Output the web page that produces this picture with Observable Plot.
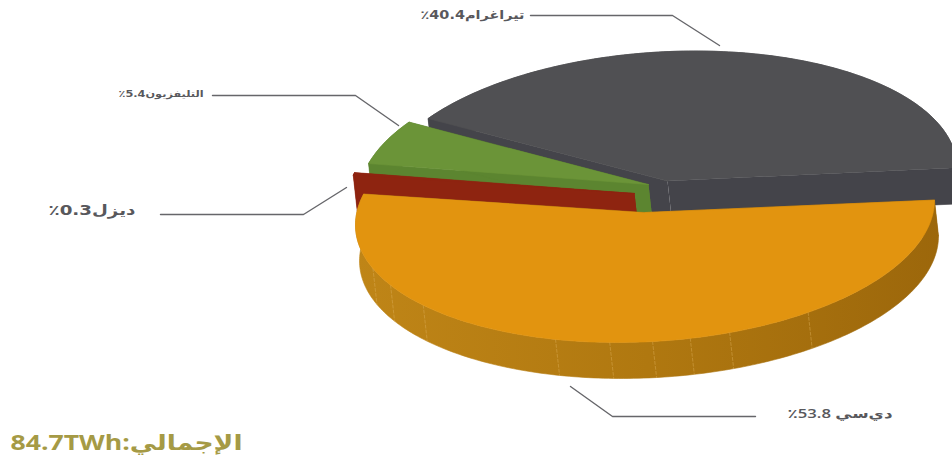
<!DOCTYPE html>
<html lang="ar">
<head>
<meta charset="utf-8">
<script src="https://cdn.jsdelivr.net/npm/d3@7"></script>
<script src="https://cdn.jsdelivr.net/npm/@observablehq/plot@0.6"></script>
<style>
  html, body { margin: 0; padding: 0; background: #fff; }
  svg { display: block; }
</style>
</head>
<body>
<div id="chart"></div>
<script>
// Electricity generation by fuel, drawn as an exploded, tilted pie.
const categories = ["ديزل", "دي\u200cسي", "التليفزيون", "تيراغرام"];
const shares = [0.3, 53.8, 5.4, 40.4];
const totalTWh = "84.7TWh";
const totalLabel = "الإجمالي:" + totalTWh;

// Draw order and look of each wedge, back to front.
const wedgeStyles = [
  {name: "تيراغرام", top: "#505053", wall: "#44444a", apex: [667, 180.5]},
  {name: "التليفزيون", top: "#6b9438", wall: "#5c8530", apex: [648, 184]},
  {name: "ديزل", top: "#8e2410", wall: "#8e2410", apex: [634, 193]},
  {name: "دي\u200cسي", top: "#e2940f", wall: "url(#rim-shade)", apex: [644.5, 212]}
];
// Clockwise order around the pie, starting on the right-hand side.
const pieOrder = ["دي\u200cسي", "ديزل", "التليفزيون", "تيراغرام"];

// Pie projection: radii of the tilted disc, its skew and the extrusion vector.
const rx = 289.5, ry = 129.4, skew = 0.043;
const depth = [4, 36];
const rad = (deg) => (deg * Math.PI) / 180;

const angles = new Map();
let running = 0;
for (const name of pieOrder) {
  const share = shares[categories.indexOf(name)];
  angles.set(name, [running * 3.6, (running + share) * 3.6]);
  running += share;
}

function rim([cx, cy], deg) {
  const c = Math.cos(rad(deg)), s = Math.sin(rad(deg));
  return {x: cx + rx * c, y: cy + ry * s - skew * rx * c};
}
const drop = (p) => ({x: p.x + depth[0], y: p.y + depth[1]});
const arc = (apex, a0, a1, step = 1) =>
  [...d3.range(a0, a1, step), a1].map((deg) => rim(apex, deg));
const apexPoint = ([x, y]) => ({x, y});
const poly = (points, color, width = 0.6) =>
  Plot.line(points, {x: "x", y: "y", fill: color, stroke: color, strokeWidth: width});

// Horizontal shading of the orange disc's rim, lighter towards the left.
const rimGradient = () => {
  const g = d3.create("svg:g");
  const grad = g.append("defs").append("linearGradient")
    .attr("id", "rim-shade")
    .attr("gradientUnits", "userSpaceOnUse")
    .attr("x1", 355).attr("x2", 940).attr("y1", 0).attr("y2", 0);
  grad.append("stop").attr("offset", 0).attr("stop-color", "#bf8517");
  grad.append("stop").attr("offset", 0.5).attr("stop-color", "#b07810");
  grad.append("stop").attr("offset", 1).attr("stop-color", "#9c670b");
  return g.node();
};

function wedgeMarks(style) {
  const [a0, a1] = angles.get(style.name);
  const apex = apexPoint(style.apex);
  const rimPts = arc(style.apex, a0, a1);
  const first = rimPts[0], last = rimPts[rimPts.length - 1];
  const marks = [];
  // Side walls along both cut faces.
  marks.push(poly([apex, first, drop(first), drop(apex)], style.wall));
  marks.push(poly([apex, last, drop(last), drop(apex)], style.wall));
  // Outer wall of the disc.
  marks.push(poly([...rimPts, ...rimPts.map(drop).reverse()], style.wall));
  // Faint seams between the rim facets of the largest wedge.
  if (style.name === "دي\u200cسي") {
    for (const deg of [55.7, 73, 81, 88.5, 97, 108, 140, 151.5, 160]) {
      const p = rim(style.apex, deg);
      marks.push(Plot.line([p, drop(p)], {
        x: "x", y: "y", stroke: "#dcae58", strokeWidth: 0.7, strokeDasharray: "3 2", strokeOpacity: 0.65
      }));
    }
  }
  // Top face.
  marks.push(poly([apex, ...rimPts], style.top));
  return marks;
}

// Value labels with their elbow leaders; span is the drawn text width.
const pct = (name) => `${name}${shares[categories.indexOf(name)]}٪`;
const labels = [
  {text: pct("تيراغرام"), x: 472, y: 15, size: 11.5, span: 104, weight: 700, family: "DejaVu Sans",
   leader: [[530, 15], [672, 15], [719, 45]]},
  {text: pct("التليفزيون"), x: 160.5, y: 94, size: 9, span: 85, weight: 700, family: "DejaVu Sans",
   leader: [[212, 95], [355, 95], [398, 125]]},
  {text: pct("ديزل"), x: 91.5, y: 210, size: 14, span: 87, weight: 700, family: "DejaVu Sans",
   leader: [[160, 214], [303, 214], [346, 187]]},
  {text: `دي\u200cسي ${shares[1]}٪`, x: 839.5, y: 413, size: 12.5, span: 105, weight: 600, family: "Open Sans, DejaVu Sans",
   leader: [[570, 386], [612, 416], [755, 416]]}
];

const leaderMarks = labels.map((d) =>
  Plot.line(d.leader.map(([x, y]) => ({x, y})), {
    x: "x", y: "y", stroke: "#66666a", strokeWidth: 1.4
  })
);
const labelMarks = labels.map((d) =>
  Plot.text([d], {
    x: "x", y: "y", text: "text", fontSize: d.size, fontWeight: d.weight,
    fontFamily: d.family, fill: "#58585c", textAnchor: "middle",
    render(index, scales, values, dims, context, next) {
      const g = next(index, scales, values, dims, context);
      d3.select(g).selectAll("text").attr("textLength", d.span).attr("lengthAdjust", "spacingAndGlyphs");
      return g;
    }
  })
);

const chart = Plot.plot({
  width: 952,
  height: 462,
  margin: 0,
  style: {direction: "rtl", background: "#fff"},
  x: {domain: [0, 952], range: [0, 952], axis: null},
  y: {domain: [0, 462], range: [0, 462], axis: null},
  marks: [
    rimGradient,
    ...wedgeStyles.flatMap(wedgeMarks),
    ...leaderMarks,
    ...labelMarks,
    Plot.text([totalLabel], {
      x: () => 126, y: () => 443, text: (d) => d, fontSize: 21, fontWeight: 700,
      fontFamily: "Open Sans, DejaVu Sans", fill: "#a59a45", textAnchor: "middle",
      render(index, scales, values, dims, context, next) {
        const g = next(index, scales, values, dims, context);
        d3.select(g).selectAll("text").attr("textLength", 232).attr("lengthAdjust", "spacingAndGlyphs");
        return g;
      }
    })
  ]
});
document.getElementById("chart").append(chart);
</script>
</body>
</html>
